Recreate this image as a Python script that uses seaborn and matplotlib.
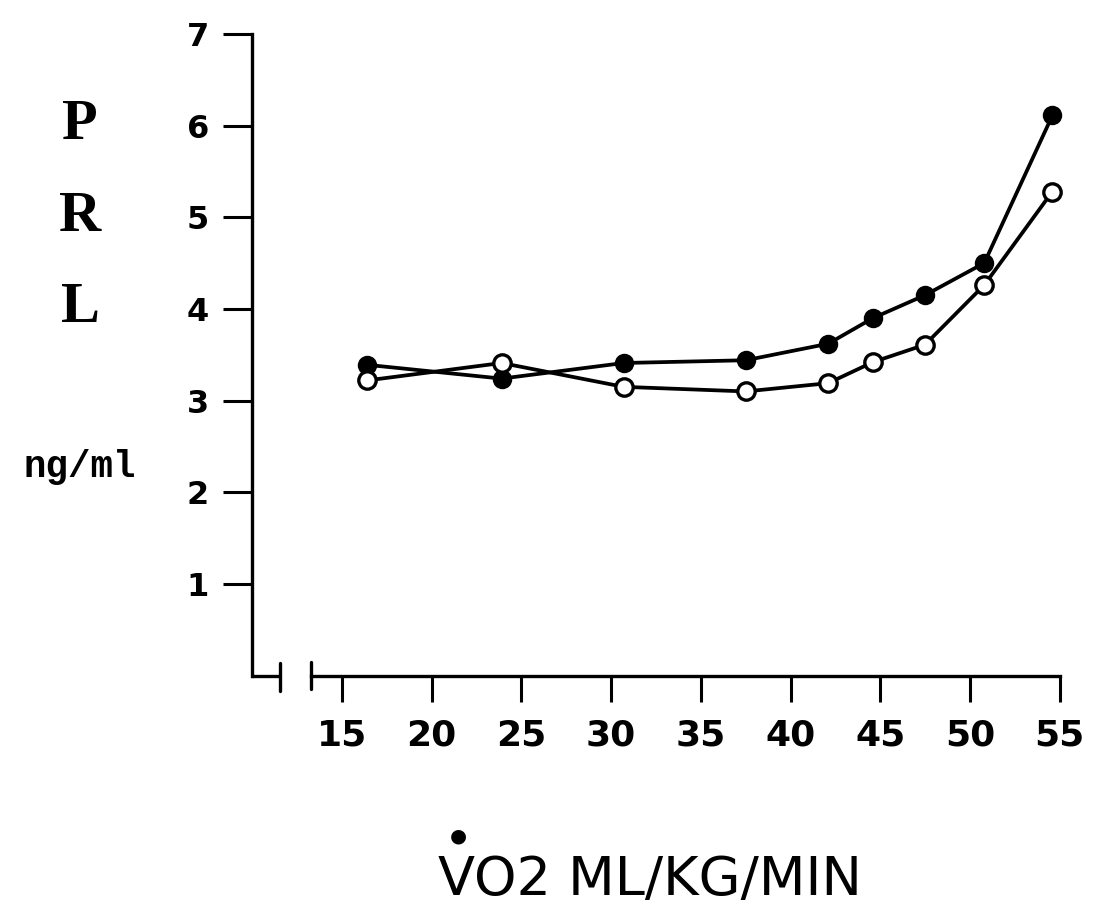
import matplotlib
matplotlib.use("Agg")
import matplotlib.pyplot as plt
import seaborn as sns
import pandas as pd

# ---- data ----
vo2 = [16.4, 23.9, 30.7, 37.5, 42.1, 44.6, 47.5, 50.8, 54.6]
prl_filled = [3.39, 3.24, 3.41, 3.44, 3.62, 3.90, 4.15, 4.50, 6.11]
prl_open = [3.22, 3.41, 3.15, 3.10, 3.19, 3.42, 3.61, 4.26, 5.28]
x_ticks = [15, 20, 25, 30, 35, 40, 45, 50, 55]
y_ticks = [1, 2, 3, 4, 5, 6, 7]
y_label_letters = ["P", "R", "L"]
y_unit = "ng/ml"
x_title = "VO2 ML/KG/MIN"

sns.set_theme(style="white")
plt.rcParams['font.family'] = ['DejaVu Sans']

W, H = 1094, 918
fig = plt.figure(figsize=(W / 100, H / 100), dpi=100)
fig.patch.set_facecolor("white")

# axes placement (pixel-derived)
x0, x1 = 9.0, 56.5
y0, y1 = -0.3, 7.3
px_per_x = 17.94
px_per_y = 91.7
left_px = 342 - (15 - x0) * px_per_x
right_px = 342 + (x1 - 15) * px_per_x
top_px = 675.7 - y1 * px_per_y
bot_px = 675.7 - y0 * px_per_y
ax = fig.add_axes([left_px / W, 1 - bot_px / H, (right_px - left_px) / W, (bot_px - top_px) / H])
ax.set_facecolor("white")
ax.set_xlim(x0, x1)
ax.set_ylim(y0, y1)

df = pd.DataFrame({"vo2": vo2, "filled": prl_filled, "open": prl_open})

lw = 2.7
sns.lineplot(data=df, x="vo2", y="filled", ax=ax, color="black", linewidth=lw,
             marker="o", markersize=12.5, markerfacecolor="black",
             markeredgecolor="black", markeredgewidth=1.5, clip_on=False, zorder=3)
sns.lineplot(data=df, x="vo2", y="open", ax=ax, color="black", linewidth=lw,
             marker="o", markersize=12.5, markerfacecolor="white",
             markeredgecolor="black", markeredgewidth=2.4, clip_on=False, zorder=4)

# spines
for s in ["top", "right"]:
    ax.spines[s].set_visible(False)
ax.spines["left"].set_position(("data", 10))
ax.spines["left"].set_bounds(0, 7)
ax.spines["bottom"].set_position(("data", 0))
ax.spines["bottom"].set_bounds(13.27, 55)
for s in ["left", "bottom"]:
    ax.spines[s].set_color("black")
    ax.spines[s].set_linewidth(2.4)

# axis break decoration
ax.plot([10, 11.54], [0, 0], color="black", lw=2.4, clip_on=False, solid_capstyle="butt")
ax.plot([11.54, 11.54], [0.14, -0.17], color="black", lw=2.4, clip_on=False)
ax.plot([13.27, 13.27], [0.15, -0.15], color="black", lw=2.4, clip_on=False)

ax.set_xticks(x_ticks)
ax.set_xticklabels([str(v) for v in x_ticks], fontsize=26, fontweight="bold")
ax.set_yticks(y_ticks)
ax.set_yticklabels([str(v) for v in y_ticks], fontsize=23, fontweight="bold")
ax.tick_params(axis="x", direction="out", length=19, width=2.2, pad=12, colors="black",
               bottom=True)
ax.tick_params(axis="y", direction="out", length=21, width=2.2, pad=10, colors="black",
               left=True)
ax.set_xlabel("")
ax.set_ylabel("")
ax.grid(False)

# y label letters
for letter, ypx in zip(y_label_letters, [125, 217, 308]):
    fig.text(80 / W, 1 - ypx / H, letter, fontsize=42, fontweight="bold",
             family=["Liberation Serif", "DejaVu Serif"], ha="center", va="center",
             color="black")
fig.text(80 / W, 1 - 467 / H, y_unit, fontsize=27, fontweight="bold",
         family=["Liberation Mono", "DejaVu Sans Mono"], ha="center", va="center",
         color="black")

# x title with dot over V
fig.text(438 / W, 1 - 880 / H, x_title, fontsize=39, ha="left", va="center",
         color="black")
fig.text(458 / W, 1 - 836 / H, "\u25CF", fontsize=14, ha="center", va="center",
         color="black")

fig.savefig("out.png", dpi=100, facecolor="white")
